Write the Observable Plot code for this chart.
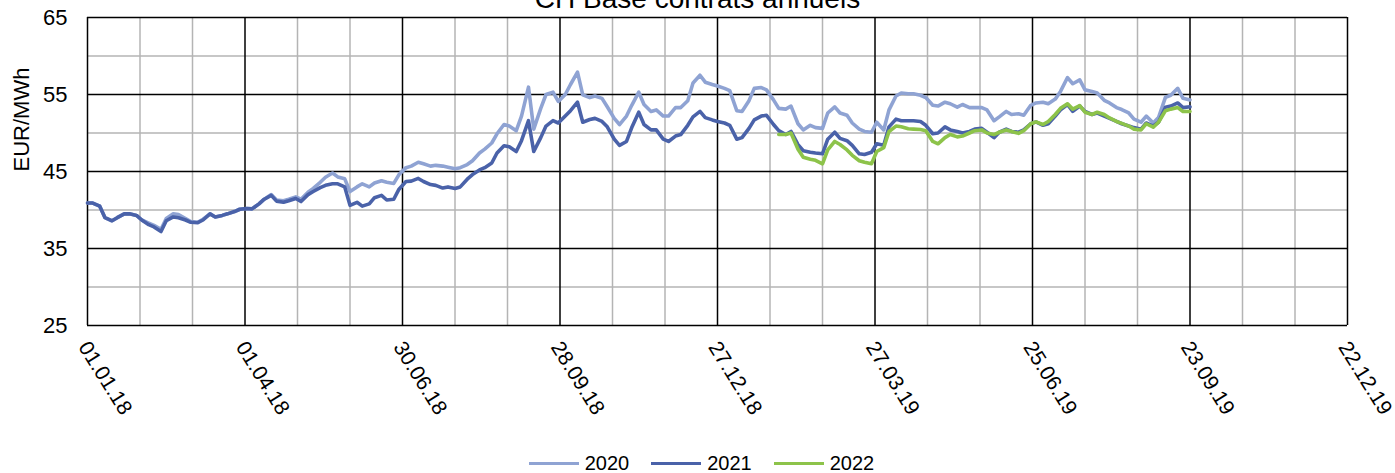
<!DOCTYPE html>
<html><head><meta charset="utf-8">
<script src="https://cdn.jsdelivr.net/npm/d3@7"></script>
<script src="https://cdn.jsdelivr.net/npm/@observablehq/plot@0.6"></script>
<style>
body{margin:0;background:#fff;font-family:Arial,"Liberation Sans",sans-serif;}
#wrap{position:relative;width:1395px;height:473px;overflow:hidden;background:#fff;}
#title{position:absolute;left:0;top:-15px;width:1395px;text-align:center;font-size:28px;line-height:28px;color:#000;}
#chart{position:absolute;left:0;top:0;}
#legend{position:absolute;left:4px;top:452px;width:1395px;display:flex;justify-content:center;align-items:center;font-size:20px;color:#000;}
.item{display:flex;align-items:center;margin:0 11px;}
.sw{width:50px;height:3.5px;margin-right:6px;}
</style>
</head><body>
<div id="wrap">
<div id="chart"></div>
<div id="title">CH Base contrats annuels</div>
<div id="legend"></div>
</div>
<script>
const seriesNames = ["2020", "2021", "2022"];
const seriesColors = ["#8fa3d3", "#4a62a9", "#8dc34a"];

const dates = [
"2018-01-01","2018-01-04","2018-01-08","2018-01-11","2018-01-15","2018-01-18","2018-01-22","2018-01-25","2018-01-29","2018-02-01",
"2018-02-05","2018-02-08","2018-02-12","2018-02-15","2018-02-19","2018-02-22","2018-02-26","2018-03-01",
"2018-03-05","2018-03-08","2018-03-12","2018-03-15","2018-03-19","2018-03-22","2018-03-26","2018-03-29",
"2018-04-02","2018-04-05","2018-04-09","2018-04-12","2018-04-16","2018-04-19","2018-04-23","2018-04-26","2018-04-30","2018-05-03",
"2018-05-07","2018-05-10","2018-05-14","2018-05-17","2018-05-21","2018-05-24","2018-05-28","2018-05-31",
"2018-06-04","2018-06-07","2018-06-11","2018-06-14","2018-06-18","2018-06-21","2018-06-25","2018-06-28",
"2018-07-02","2018-07-05","2018-07-09","2018-07-12","2018-07-16","2018-07-19","2018-07-23","2018-07-26","2018-07-30","2018-08-02",
"2018-08-06","2018-08-09","2018-08-13","2018-08-16","2018-08-20","2018-08-23","2018-08-27","2018-08-30",
"2018-09-03","2018-09-06","2018-09-10","2018-09-13","2018-09-17","2018-09-20","2018-09-24","2018-09-27",
"2018-10-01","2018-10-04","2018-10-08","2018-10-11","2018-10-15","2018-10-18","2018-10-22","2018-10-25","2018-10-29","2018-11-01",
"2018-11-05","2018-11-08","2018-11-12","2018-11-15","2018-11-19","2018-11-22","2018-11-26","2018-11-29",
"2018-12-03","2018-12-06","2018-12-10","2018-12-13","2018-12-17","2018-12-20","2018-12-24","2018-12-27","2018-12-31",
"2019-01-03","2019-01-07","2019-01-10","2019-01-14","2019-01-17","2019-01-21","2019-01-24","2019-01-28","2019-01-31",
"2019-02-04","2019-02-07","2019-02-11","2019-02-14","2019-02-18","2019-02-21","2019-02-25","2019-02-28",
"2019-03-04","2019-03-07","2019-03-11","2019-03-14","2019-03-18","2019-03-21","2019-03-25","2019-03-28",
"2019-04-01","2019-04-04","2019-04-08","2019-04-11","2019-04-15","2019-04-18","2019-04-22","2019-04-25","2019-04-29","2019-05-02",
"2019-05-06","2019-05-09","2019-05-13","2019-05-16","2019-05-20","2019-05-23","2019-05-27","2019-05-30",
"2019-06-03","2019-06-06","2019-06-10","2019-06-13","2019-06-17","2019-06-20","2019-06-24","2019-06-27",
"2019-07-01","2019-07-04","2019-07-08","2019-07-11","2019-07-15","2019-07-18","2019-07-22","2019-07-25","2019-07-29","2019-08-01",
"2019-08-05","2019-08-08","2019-08-12","2019-08-15","2019-08-19","2019-08-22","2019-08-26","2019-08-29",
"2019-09-02","2019-09-05","2019-09-09","2019-09-12","2019-09-16","2019-09-19","2019-09-23"
];

const values2020 = [
40.9,40.9, 40.5,39.0, 38.6,39.0, 39.5,39.5, 39.3,38.7,
38.3,38.0, 37.5,38.9, 39.5,39.4, 38.9,38.5,
38.4,38.8, 39.5,39.1, 39.3,39.5, 39.8,40.1,
40.2,40.15, 40.8,41.4, 42.0,41.3, 41.2,41.4, 41.7,41.4,
42.3,42.8, 43.6,44.26, 44.8,44.3, 44.05,42.4,
43.0,43.4, 43.0,43.5, 43.8,43.6, 43.45,44.6,
45.5,45.7, 46.2,46.0, 45.7,45.8, 45.7,45.55, 45.35,45.5,
45.9,46.4, 47.4,47.9, 48.7,49.9, 51.1,50.9,
50.3,52.2, 55.95,50.5, 53.2,55.0, 55.3,54.1,
55.0,56.3, 57.9,54.95, 54.6,54.8, 54.5,53.4, 51.9,51.1,
52.2,53.6, 55.3,53.7, 52.8,53.0, 52.2,52.2,
53.3,53.3, 54.2,56.5, 57.5,56.6, 56.3,56.1, 55.8,
55.5, 52.9,52.8, 54.2,55.8, 55.9,55.6, 54.3,53.2,
53.1,53.5, 51.2,50.4, 51.0,50.7, 50.6,52.6,
53.4,52.6, 52.3,51.3, 50.5,50.2, 50.1,51.4,
50.4,53.0, 54.8,55.2, 55.1,55.1, 54.9,54.6, 53.6,53.5,
54.0,53.8, 53.35,53.7, 53.3,53.3, 53.3,53.0,
51.6,52.1, 52.8,52.4, 52.5,52.3, 53.6,53.9,
54.0,53.8, 54.4,55.4, 57.2,56.4, 56.9,55.6, 55.4,55.2,
54.25,53.9, 53.3,53.05, 52.6,51.8, 51.4,52.2,
51.3,52.0, 54.65,54.9, 55.8,54.5, 54.3
];

const values2021 = [
40.9,40.9, 40.5,39.0, 38.6,39.0, 39.5,39.5, 39.3,38.7,
38.1,37.8, 37.2,38.6, 39.1,39.0, 38.7,38.4,
38.35,38.7, 39.5,39.1, 39.3,39.5, 39.8,40.1,
40.2,40.15, 40.8,41.4, 41.9,41.15, 41.0,41.2, 41.5,41.1,
42.0,42.4, 42.9,43.2, 43.4,43.4, 43.0,40.6,
41.0,40.5, 40.8,41.6, 41.9,41.3, 41.4,42.7,
43.7,43.75, 44.1,43.7, 43.3,43.2, 42.85,43.0, 42.8,43.0,
44.0,44.6, 45.2,45.5, 46.1,47.4, 48.35,48.2,
47.6,49.0, 51.6,47.6, 49.4,50.9, 51.6,51.3,
52.2,52.9, 54.0,51.4, 51.75,51.9, 51.5,50.8, 49.2,48.4,
48.9,50.7, 52.7,51.1, 50.4,50.4, 49.2,48.9,
49.6,49.8, 51.0,52.1, 52.8,52.0, 51.7,51.5, 51.3,
51.0, 49.2,49.4, 50.6,51.7, 52.2,52.3, 51.1,50.3,
49.8,50.2, 48.5,47.7, 47.5,47.4, 47.3,49.2,
50.1,49.3, 49.0,48.4, 47.3,47.2, 47.5,48.6,
48.4,50.8, 51.8,51.6, 51.6,51.6, 51.5,51.0, 49.9,50.0,
50.8,50.4, 50.2,50.0, 50.2,50.5, 50.6,50.1,
49.4,50.1, 50.5,50.2, 50.1,50.4, 51.2,51.45,
51.0,51.2, 52.2,53.0, 53.7,52.8, 53.5,52.8, 52.4,52.6,
52.2,51.9, 51.5,51.2, 50.9,50.7, 50.5,51.3,
50.9,51.4, 53.35,53.5, 53.9,53.3, 53.4
];

const start2022 = "2019-01-31";
const values2022 = [
49.8,
49.8,50.0, 47.9,46.85, 46.6,46.45, 46.0,47.8,
48.9,48.5, 47.8,47.1, 46.4,46.2, 46.0,47.6,
48.1,50.2, 50.9,50.8, 50.55,50.5, 50.45,50.3, 48.9,48.6,
49.4,49.8, 49.5,49.6, 50.0,50.3, 50.4,50.0,
49.8,50.1, 50.4,50.2, 49.95,50.3, 51.2,51.45,
51.1,51.5, 52.4,53.2, 53.8,53.1, 53.55,52.7, 52.4,52.7,
52.4,51.95, 51.5,51.25, 50.9,50.5, 50.4,51.2,
50.75,51.4, 52.9,53.1, 53.3,52.8, 52.8
];

const xDomain = ["2018-01-01", "2019-12-22"];
const majorXTicks = ["2018-01-01","2018-04-01","2018-06-30","2018-09-28","2018-12-27","2019-03-27","2019-06-25","2019-09-23","2019-12-22"];
const majorYTicks = [25, 35, 45, 55, 65];
const minorYTicks = [30, 40, 50, 60];
const yLabel = "EUR/MWh";

const parse = d3.utcParse("%Y-%m-%d");
const D = dates.map(parse);
const i22 = dates.indexOf(start2022);
const rows = [
  ...values2020.map((v, i) => ({date: D[i], value: v, s: "2020"})),
  ...values2021.map((v, i) => ({date: D[i], value: v, s: "2021"})),
  ...values2022.map((v, i) => ({date: D[i22 + i], value: v, s: "2022"}))
];
const x0 = parse(xDomain[0]), x1 = parse(xDomain[1]);
const majorX = majorXTicks.map(parse);
const minorX = d3.range(0, 721, 30).filter(d => d % 90 !== 0).map(d => d3.utcDay.offset(x0, d));

const chart = Plot.plot({
  width: 1395, height: 448,
  marginLeft: 87, marginRight: 48, marginTop: 17, marginBottom: 123,
  style: {fontFamily: "Arial, 'Liberation Sans', sans-serif", fontSize: "22px", color: "#000", background: "#fff", overflow: "visible"},
  x: {type: "utc", domain: [x0, x1]},
  y: {domain: [25, 65]},
  color: {domain: seriesNames, range: seriesColors},
  marks: [
    Plot.ruleY(minorYTicks, {stroke: "#b4b4b4", strokeWidth: 1.5}),
    Plot.ruleX(minorX, {stroke: "#b4b4b4", strokeWidth: 1.5}),
    Plot.ruleY(majorYTicks, {stroke: "#000", strokeWidth: 1.5}),
    Plot.ruleX(majorX, {stroke: "#000", strokeWidth: 1.5}),
    Plot.line(rows, {x: "date", y: "value", z: "s", stroke: "s", strokeWidth: 3.6, strokeLinejoin: "round", strokeLinecap: "round"}),
    Plot.axisY({ticks: majorYTicks, tickSize: 0, tickPadding: 20, label: null, fontSize: 22}),
    Plot.axisX({ticks: majorX, tickFormat: d3.utcFormat("%d.%m.%y"), tickRotate: 58, tickSize: 0, tickPadding: 18, dx: -4, label: null, fontSize: 21}),
    Plot.text([yLabel], {frameAnchor: "left", dx: -66, rotate: -90, fontSize: 22, text: d => d})
  ]
});
document.getElementById("chart").appendChild(chart);

const legend = d3.select("#legend");
seriesNames.forEach((n, i) => {
  const it = legend.append("div").attr("class", "item");
  it.append("div").attr("class", "sw").style("background", seriesColors[i]);
  it.append("span").text(n);
});
</script>
</body></html>
